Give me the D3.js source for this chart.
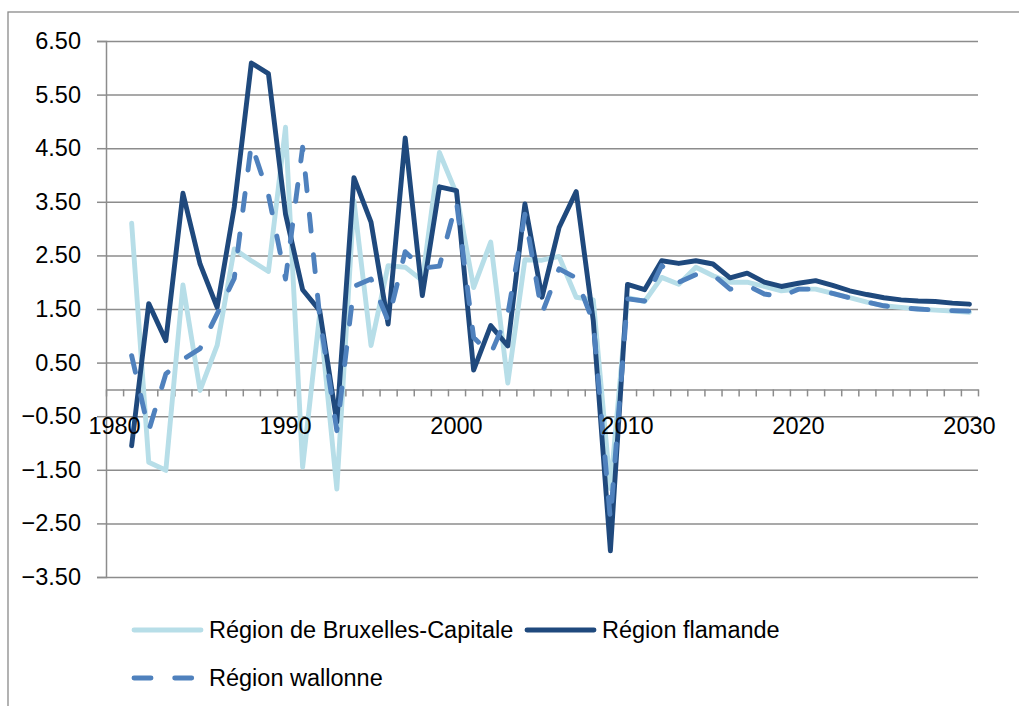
<!DOCTYPE html>
<html>
<head>
<meta charset="utf-8">
<script src="https://cdn.jsdelivr.net/npm/d3@7"></script>
<style>
  html, body { margin: 0; padding: 0; background: #ffffff; }
  svg { display: block; font-family: 'Liberation Sans', Arial, sans-serif; }
</style>
</head>
<body>
<svg id="chart" width="1019" height="706"></svg>
<script>
// ---- Data ----
const categories = d3.range(1980, 2031);          // category axis 1980..2030
const years = d3.range(1981, 2031);               // data years 1981..2030
const seriesNames = ["Région de Bruxelles-Capitale", "Région flamande", "Région wallonne"];
const bruxelles = [3.10, -1.36, -1.51, 1.95, -0.02, 0.82, 2.62, 2.40, 2.20, 4.89,
  -1.45, 1.41, -1.86, 3.52, 0.82, 2.31, 2.28, 2.03, 4.42, 3.65,
  1.90, 2.75, 0.12, 2.42, 2.41, 2.48, 1.72, 1.67, -1.85, 1.71,
  1.64, 2.09, 1.96, 2.28, 2.12, 2.00, 2.00, 1.92, 1.84, 1.87,
  1.87, 1.79, 1.71, 1.63, 1.56, 1.53, 1.50, 1.48, 1.46, 1.44];
const flamande = [-1.05, 1.60, 0.91, 3.66, 2.34, 1.53, 3.40, 6.09, 5.89, 3.27,
  1.86, 1.47, -0.61, 3.95, 3.12, 1.22, 4.69, 1.75, 3.78, 3.71,
  0.36, 1.19, 0.81, 3.46, 1.72, 3.02, 3.69, 1.28, -3.01, 1.96,
  1.86, 2.40, 2.35, 2.40, 2.34, 2.08, 2.17, 2.00, 1.92, 1.98,
  2.03, 1.94, 1.84, 1.77, 1.71, 1.67, 1.65, 1.64, 1.61, 1.59];
const wallonne = [0.63, -0.77, 0.29, 0.56, 0.76, 1.41, 2.07, 4.58, 3.63, 2.06,
  4.52, 1.35, -0.77, 1.92, 2.06, 1.28, 2.57, 2.26, 2.30, 3.50,
  0.97, 0.66, 1.40, 3.27, 1.42, 2.25, 2.08, 1.25, -2.43, 1.69,
  1.65, 2.31, 2.00, 2.14, 2.14, 1.87, 1.94, 1.78, 1.73, 1.87,
  1.87, 1.79, 1.71, 1.63, 1.56, 1.52, 1.50, 1.48, 1.47, 1.46];
const yTickValues = [-3.5, -2.5, -1.5, -0.5, 0.5, 1.5, 2.5, 3.5, 4.5, 5.5, 6.5];
const xLabelYears = [1980, 1990, 2000, 2010, 2020, 2030];

// ---- Styles ----
const colors = ["#B7DEE8", "#1F497D", "#4F81BD"];
const dashes = [null, null, "17,23.7"];
const gridColor = "#8c8c8c";
const fontSize = 23.5;

// ---- Layout ----
const plotLeft = 106, plotRight = 978, plotTop = 41, plotBottom = 577;

const svg = d3.select("#chart");

// outer chart border (only top and left edges fall inside the picture)
svg.append("rect")
  .attr("x", 8).attr("y", 12)
  .attr("width", 1100).attr("height", 800)
  .attr("fill", "none").attr("stroke", "#8a8a8a").attr("stroke-width", 1.3);

const x = d3.scaleBand().domain(categories).range([plotLeft, plotRight]).paddingInner(0).paddingOuter(0);
const xc = yr => x(yr) + x.bandwidth() / 2;
const xEdge = d3.scaleLinear().domain([1979.5, 2030.5]).range([plotLeft, plotRight]);
const y = d3.scaleLinear().domain([-3.5, 6.5]).range([plotBottom, plotTop]);
const fmt = d3.format(".2f");

// gridlines
const grid = svg.append("g")
  .attr("transform", `translate(${plotLeft},0)`)
  .call(d3.axisRight(y).tickValues(yTickValues).tickSize(plotRight - plotLeft).tickFormat(""));
grid.select(".domain").remove();
grid.selectAll("line").attr("stroke", gridColor).attr("stroke-width", 1.5);

// y axis
const yAxis = svg.append("g")
  .attr("transform", `translate(${plotLeft},0)`)
  .call(d3.axisLeft(y).tickValues(yTickValues).tickSize(9).tickPadding(16).tickFormat(fmt));
yAxis.select(".domain").attr("stroke", gridColor).attr("stroke-width", 1.5);
yAxis.selectAll("line").attr("stroke", gridColor).attr("stroke-width", 1.5);
yAxis.selectAll("text").attr("font-size", fontSize).attr("fill", "#000")
  .attr("font-family", "'Liberation Sans', Arial, sans-serif");

// x axis (at value 0), ticks between categories
const xAxis = svg.append("g")
  .attr("transform", `translate(0,${y(0)})`)
  .call(d3.axisBottom(xEdge).tickValues(d3.range(1979.5, 2031, 1)).tickSize(7).tickFormat("").tickSizeOuter(0));
xAxis.select(".domain").attr("stroke", gridColor).attr("stroke-width", 1.5);
xAxis.selectAll("line").attr("stroke", gridColor).attr("stroke-width", 1.5);

// series lines
const seriesData = [bruxelles, flamande, wallonne];
const line = d3.line().x((d, i) => xc(years[i])).y(d => y(d));
seriesData.forEach((vals, s) => {
  svg.append("path")
    .datum(vals)
    .attr("d", line)
    .attr("fill", "none")
    .attr("stroke", colors[s])
    .attr("stroke-width", 4.9)
    .attr("stroke-linejoin", "round")
    .attr("stroke-linecap", "round")
    .attr("stroke-dasharray", dashes[s]);
});

// x labels centred on categories (drawn above the series)
const xLab = svg.append("g")
  .attr("transform", `translate(0,${y(0)})`)
  .call(d3.axisBottom(x).tickValues(xLabelYears).tickSize(0).tickPadding(27.5).tickFormat(d3.format("d")));
xLab.select(".domain").remove();
xLab.selectAll("text").attr("font-size", fontSize).attr("fill", "#000")
  .attr("font-family", "'Liberation Sans', Arial, sans-serif");

// legend
const legendItems = [
  { x: 134, y: 630 },
  { x: 527, y: 630 },
  { x: 134, y: 678 }
];
const legend = svg.append("g");
seriesNames.forEach((name, s) => {
  const it = legendItems[s];
  legend.append("line")
    .attr("x1", it.x).attr("x2", it.x + 67)
    .attr("y1", it.y).attr("y2", it.y)
    .attr("stroke", colors[s]).attr("stroke-width", 4.9)
    .attr("stroke-linecap", "round")
    .attr("stroke-dasharray", dashes[s]);
  legend.append("text")
    .attr("x", it.x + 75).attr("y", it.y).attr("dy", "0.35em")
    .attr("font-size", fontSize).attr("fill", "#000")
    .text(name);
});
</script>
</body>
</html>
